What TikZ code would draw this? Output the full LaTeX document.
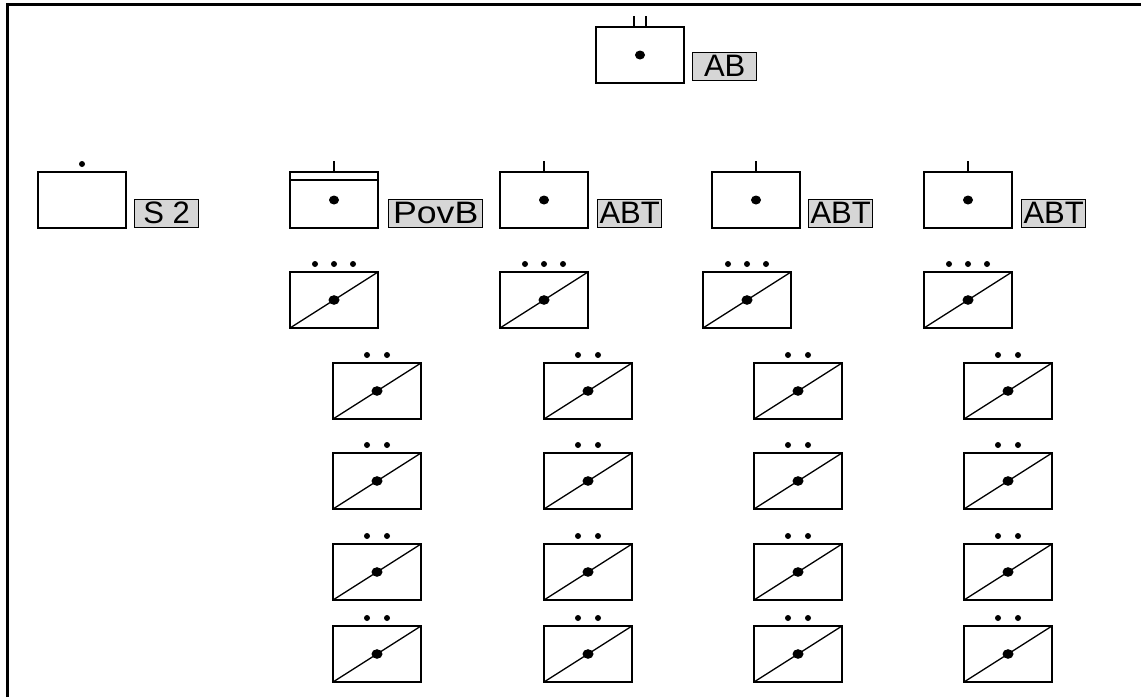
\documentclass[tikz,border=0pt]{standalone}
\usepackage{fontspec}
\setmainfont{Liberation Sans}
\usepackage{tikz}
\usetikzlibrary{
  calc
  , positioning
}

\definecolor{TagGray}{RGB}{214,214,214}
% small dots above a box
\def\TwoDots#1{%
  \fill ([shift={(-10pt,7pt)}]#1.north) circle (3pt)
        ([shift={(10pt,7pt)}]#1.north) circle (3pt);}
\def\ThreeDots#1{%
  \fill ([shift={(-19pt,7pt)}]#1.north) circle (3pt)
        ([shift={(0pt,7pt)}]#1.north) circle (3pt)
        ([shift={(19pt,7pt)}]#1.north) circle (3pt);}
\def\Tick#1{%
  \draw[line width=1.3pt] (#1.north) -- ++(0pt,10pt);}

\tikzset{
  unit/.style={draw,
    line width=2pt,
    minimum width=88pt,
    minimum height=56pt,
    inner sep=0pt},
  cell/.style={unit,
    path picture={
      \draw[line width=1.3pt] (path picture bounding box.south west)
        -- (path picture bounding box.north east);
      \fill (path picture bounding box.center) ellipse (5.5pt and 4.8pt);}},
  tag/.style={draw,
    fill=TagGray,
    line width=1.4pt,
    anchor=south west,
    inner sep=0pt,
    minimum width=64pt,
    minimum height=28pt,
    font=\fontsize{31pt}{31pt}\selectfont},
}

\begin{document}
\begin{tikzpicture}[x=1pt, y=-1pt]
      \useasboundingbox (0,0) rectangle (1141,697);
      % frame
      \draw[line width=3.5pt] (7.5,697) -- (7.5,4.5) -- (1141,4.5);

      % top unit
      \node[unit] (Top) at (640,55){};
      \fill (Top.center) ellipse (5pt and 4.5pt);
      \draw[line width=1.3pt] ([xshift=-6pt]Top.north) -- ++(0pt,10pt);
      \draw[line width=1.3pt] ([xshift=6pt]Top.north) -- ++(0pt,10pt);
      \node[tag] (TopTag) at ([shift={(7pt,3pt)}]Top.south east) {AB};

      % first row
      \node[unit] (Spare) at (82,200){};
      \fill ([yshift=7pt]Spare.north) circle (3pt);
      \node[tag] (SpareTag) at ([shift={(7pt,1pt)}]Spare.south east) {S 2};

      \node[unit] (PovB) at (334,200){};
      \draw[line width=1.6pt] ([yshift=-9pt]PovB.north west) -- ([yshift=-9pt]PovB.north east);
      \fill (PovB.center) ellipse (5pt and 4.5pt);
      \Tick{PovB}
      \node[tag, minimum width=94pt] (PovBTag) at ([shift={(9pt,1pt)}]PovB.south east)
        {\scalebox{1.15}[1]{PovB}};

      \node[unit] (AbtA) at (544,200){};
      \fill (AbtA.center) ellipse (5pt and 4.5pt);
      \Tick{AbtA}
      \node[tag] (AbtATag) at ([shift={(8pt,1pt)}]AbtA.south east) {ABT};

      \node[unit] (AbtB) at (756,200){};
      \fill (AbtB.center) ellipse (5pt and 4.5pt);
      \Tick{AbtB}
      \node[tag] (AbtBTag) at ([shift={(7pt,1pt)}]AbtB.south east) {ABT};

      \node[unit] (AbtC) at (968,200){};
      \fill (AbtC.center) ellipse (5pt and 4.5pt);
      \Tick{AbtC}
      \node[tag] (AbtCTag) at ([shift={(8pt,1pt)}]AbtC.south east) {ABT};

      % second row
      \node[cell] (SubP) at (334,300){};
      \ThreeDots{SubP}
      \node[cell] (SubA) at (544,300){};
      \ThreeDots{SubA}
      \node[cell] (SubB) at (747,300){};
      \ThreeDots{SubB}
      \node[cell] (SubC) at (968,300){};
      \ThreeDots{SubC}

      % lower cells, column A
      \node[cell] (CellA1) at (377,391){};
      \node[cell] (CellA2) at (377,481){};
      \node[cell] (CellA3) at (377,572){};
      \node[cell] (CellA4) at (377,654){};
      \TwoDots{CellA1} \TwoDots{CellA2} \TwoDots{CellA3} \TwoDots{CellA4}

      % column B
      \node[cell] (CellB1) at (588,391){};
      \node[cell] (CellB2) at (588,481){};
      \node[cell] (CellB3) at (588,572){};
      \node[cell] (CellB4) at (588,654){};
      \TwoDots{CellB1} \TwoDots{CellB2} \TwoDots{CellB3} \TwoDots{CellB4}

      % column C
      \node[cell] (CellC1) at (798,391){};
      \node[cell] (CellC2) at (798,481){};
      \node[cell] (CellC3) at (798,572){};
      \node[cell] (CellC4) at (798,654){};
      \TwoDots{CellC1} \TwoDots{CellC2} \TwoDots{CellC3} \TwoDots{CellC4}

      % column D
      \node[cell] (CellD1) at (1008,391){};
      \node[cell] (CellD2) at (1008,481){};
      \node[cell] (CellD3) at (1008,572){};
      \node[cell] (CellD4) at (1008,654){};
      \TwoDots{CellD1} \TwoDots{CellD2} \TwoDots{CellD3} \TwoDots{CellD4}

    \end{tikzpicture}
\end{document}
